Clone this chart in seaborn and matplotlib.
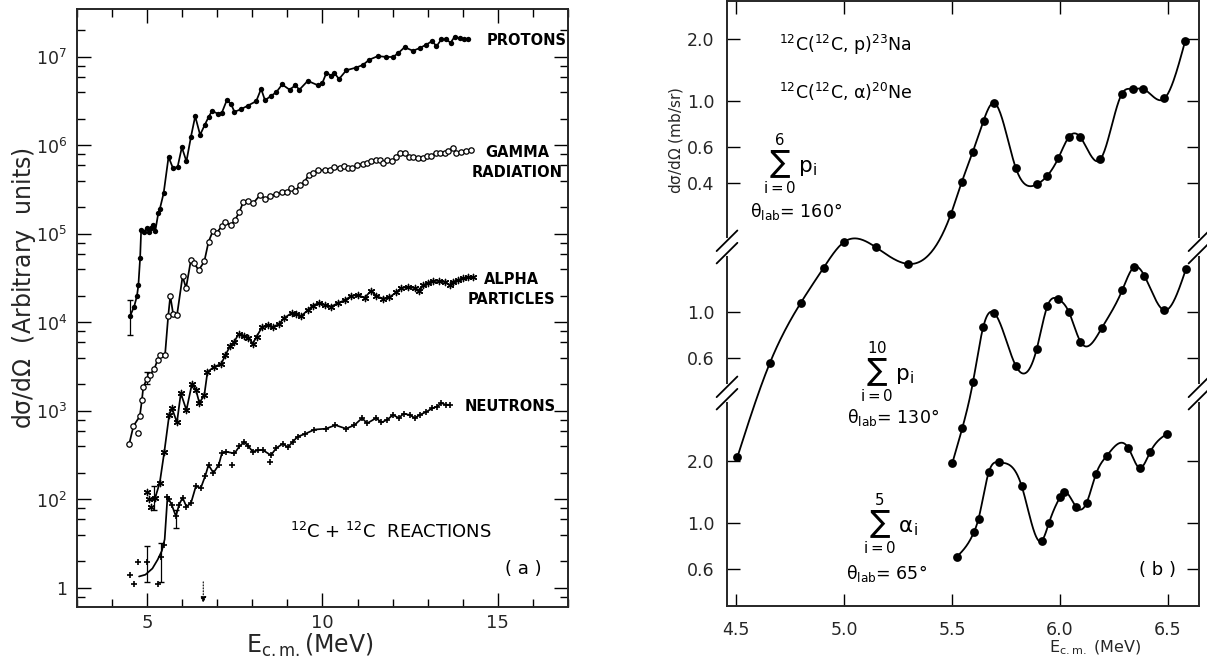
import numpy as np
import pandas as pd
import matplotlib
matplotlib.use("Agg")
import matplotlib.pyplot as plt
import matplotlib.transforms as mtransforms
import seaborn as sns

# ---------------- data: panel (a)  (log10 of dsigma/dOmega, arbitrary units) ----------------
protons_E = [4.51, 4.63, 4.71, 4.75, 4.80, 4.83, 4.91, 4.99, 5.06, 5.11, 5.17, 5.23, 5.32, 5.36, 5.47,
             5.61, 5.74, 5.87, 5.99, 6.12, 6.25, 6.37, 6.51, 6.64, 6.75, 6.85, 7.01, 7.13, 7.27, 7.39,
             7.49, 7.68, 7.87, 8.11, 8.25, 8.36, 8.53, 8.68, 8.85, 9.06, 9.23, 9.34, 9.58, 9.87, 10.0,
             10.11, 10.25, 10.34, 10.47, 10.68, 10.96, 11.15, 11.34, 11.58, 11.82, 12.01, 12.15, 12.34,
             12.58, 12.77, 12.96, 13.13, 13.25, 13.39, 13.53, 13.65, 13.77, 13.91, 14.03, 14.15]
protons_log = [4.07, 4.18, 4.30, 4.42, 4.73, 5.05, 5.02, 5.07, 5.02, 5.07, 5.10, 5.03, 5.24, 5.28, 5.46,
               5.87, 5.74, 5.76, 5.98, 5.82, 6.10, 6.33, 6.12, 6.23, 6.32, 6.39, 6.36, 6.37, 6.51, 6.47,
               6.38, 6.41, 6.45, 6.50, 6.64, 6.51, 6.56, 6.60, 6.69, 6.63, 6.68, 6.63, 6.73, 6.68, 6.71,
               6.82, 6.79, 6.82, 6.75, 6.85, 6.88, 6.91, 6.97, 7.01, 7.00, 7.00, 7.04, 7.11,
               7.07, 7.10, 7.14, 7.18, 7.12, 7.20, 7.20, 7.16, 7.23, 7.21, 7.20, 7.20]

gamma_E = [4.49, 4.61, 4.79, 4.85, 4.89, 4.99, 5.08, 5.20, 5.30, 5.37, 5.51, 5.60, 5.66, 5.74, 5.85,
           6.01, 6.11, 6.25, 6.34, 6.47, 6.63, 6.75, 6.87, 6.98, 7.13, 7.23, 7.39, 7.51, 7.63, 7.74,
           7.89, 8.03, 8.22, 8.37, 8.51, 8.68, 8.85, 8.98, 9.10, 9.23, 9.36, 9.49, 9.61, 9.72, 9.87,
           10.06, 10.20, 10.34, 10.49, 10.60, 10.72, 10.85, 10.98, 11.15, 11.27, 11.39, 11.53, 11.63,
           11.72, 11.84, 11.99, 12.10, 12.22, 12.34, 12.47, 12.58, 12.72, 12.87, 12.98, 13.10, 13.23,
           13.36, 13.49, 13.58, 13.71, 13.82, 13.96, 14.10, 14.23]
gamma_log = [2.63, 2.83, 2.94, 3.12, 3.27, 3.36, 3.41, 3.47, 3.58, 3.63, 3.63, 4.07, 4.30, 4.10, 4.08,
             4.52, 4.39, 4.71, 4.67, 4.59, 4.69, 4.91, 5.03, 5.01, 5.09, 5.13, 5.10, 5.16, 5.25, 5.36,
             5.37, 5.35, 5.44, 5.40, 5.43, 5.45, 5.47, 5.47, 5.52, 5.49, 5.55, 5.59, 5.67, 5.69, 5.72,
             5.72, 5.72, 5.76, 5.74, 5.77, 5.75, 5.74, 5.78, 5.79, 5.80, 5.83, 5.84, 5.84,
             5.80, 5.84, 5.82, 5.87, 5.92, 5.91, 5.87, 5.87, 5.86, 5.86, 5.88, 5.88, 5.92,
             5.92, 5.92, 5.94, 5.97, 5.92, 5.93, 5.94, 5.95]
gamma_extra_E = [4.74]
gamma_extra_log = [2.755]

alpha_E = [5.06, 5.23, 5.36, 5.49, 5.63, 5.71, 5.85, 5.96, 6.12, 6.28, 6.39, 6.49, 6.63, 6.72, 6.91,
           7.11, 7.23, 7.36, 7.48, 7.61, 7.77, 7.89, 8.01, 8.12, 8.28, 8.44, 8.58, 8.75, 8.91, 9.13,
           9.25, 9.39, 9.58, 9.72, 9.89, 10.06, 10.25, 10.44, 10.63, 10.82, 11.01, 11.20, 11.39, 11.53,
           11.72, 11.91, 12.10, 12.25, 12.44, 12.63, 12.75, 12.87, 13.01, 13.15, 13.32, 13.49, 13.63,
           13.72, 13.87, 14.01, 14.15, 14.28]
alpha_log = [2.00, 2.02, 2.19, 2.54, 2.96, 3.03, 2.87, 3.20, 3.01, 3.31, 3.24, 3.09, 3.18, 3.44, 3.50,
             3.53, 3.63, 3.73, 3.78, 3.87, 3.85, 3.83, 3.76, 3.84, 3.95, 3.97, 3.95, 3.98, 4.05, 4.11,
             4.10, 4.07, 4.14, 4.19, 4.22, 4.20, 4.18, 4.22, 4.25, 4.30, 4.31, 4.28, 4.36, 4.30,
             4.27, 4.285, 4.34, 4.39, 4.40, 4.39, 4.35, 4.42, 4.45, 4.47, 4.47, 4.46, 4.42,
             4.46, 4.48, 4.50, 4.51, 4.51]
alpha_extra_E = [4.99, 5.12]
alpha_extra_log = [2.08, 1.91]

neutrons_E = [4.77, 4.95, 5.15, 5.30, 5.42, 5.50, 5.58, 5.61, 5.70, 5.82, 5.91, 6.01, 6.12, 6.25, 6.39,
              6.53, 6.66, 6.75, 6.89, 7.04, 7.13, 7.25, 7.49, 7.63, 7.77, 7.89, 8.01, 8.15, 8.29, 8.53,
              8.68, 8.87, 9.01, 9.15, 9.29, 9.50, 9.77, 10.10, 10.37, 10.67, 10.91, 11.13, 11.27, 11.53,
              11.68, 11.84, 12.01, 12.18, 12.31, 12.49, 12.63, 12.77, 12.96, 13.13, 13.27, 13.39, 13.51, 13.63]
neutrons_log = [1.13, 1.15, 1.22, 1.32, 1.42, 1.55, 2.03, 2.01, 1.94, 1.81, 1.94, 2.02, 1.92, 1.96, 2.15,
                2.13, 2.27, 2.39, 2.30, 2.39, 2.52, 2.54, 2.52, 2.60, 2.65, 2.60, 2.54, 2.555, 2.56, 2.50,
                2.58, 2.63, 2.59, 2.65, 2.71, 2.74, 2.79, 2.80, 2.84, 2.80, 2.84, 2.92, 2.86, 2.92,
                2.87, 2.90, 2.955, 2.92, 2.97, 2.955, 2.92, 2.955, 2.99, 3.03, 3.05, 3.09, 3.07, 3.07]
neutrons_extra_E = [4.51, 4.63, 4.74, 5.01, 5.31, 5.39, 5.49, 7.42, 8.49]
neutrons_extra_log = [1.15, 1.04, 1.29, 1.29, 1.05, 1.35, 1.49, 2.39, 2.42]

errbar_E = [4.51, 4.99, 5.20, 5.01, 5.39, 5.82]
errbar_lo_log = [3.86, 3.31, 1.88, 1.07, 1.07, 1.68]
errbar_hi_log = [4.25, 3.44, 2.15, 1.47, 1.51, 1.88]

a_yticks = [1e1, 1e2, 1e3, 1e4, 1e5, 1e6, 1e7]
a_yticklabels = ["1", "$10^2$", "$10^3$", "$10^4$", "$10^5$", "$10^6$", "$10^7$"]
a_xticks = [5, 10, 15]
arrow_E = 6.6

# ---------------- data: panel (b)  (dsigma/dOmega in mb/sr) ----------------
p160_E = [4.506, 4.657, 4.80, 4.905, 5.0, 5.148, 5.298, 5.495, 5.545, 5.596, 5.646, 5.694, 5.796, 5.892,
          5.942, 5.993, 6.042, 6.093, 6.187, 6.287, 6.337, 6.386, 6.484, 6.58]
p160_val = [0.0187, 0.0537, 0.105, 0.155, 0.207, 0.195, 0.162, 0.283, 0.404, 0.566, 0.803, 0.98, 0.472,
            0.394, 0.435, 0.530, 0.671, 0.671, 0.521, 1.086, 1.145, 1.145, 1.03, 1.96]
p130_E = [5.501, 5.548, 5.597, 5.645, 5.694, 5.796, 5.892, 5.942, 5.993, 6.042, 6.095, 6.193, 6.289,
          6.342, 6.391, 6.484, 6.583]
p130_val = [0.184, 0.274, 0.456, 0.849, 0.993, 0.547, 0.659, 1.07, 1.153, 0.997, 0.718, 0.834, 1.28,
            1.65, 1.50, 1.02, 1.61]
a65_E = [5.523, 5.602, 5.623, 5.670, 5.719, 5.822, 5.916, 5.949, 6.0, 6.02, 6.074, 6.123, 6.167, 6.217,
         6.317, 6.370, 6.417, 6.496]
a65_val = [0.686, 0.904, 1.05, 1.76, 1.97, 1.52, 0.820, 1.0, 1.33, 1.41, 1.20, 1.25, 1.73, 2.12, 2.31,
           1.85, 2.20, 2.71]

b_section_ticks = {"top": [2.0, 1.0, 0.6, 0.4], "mid": [1.0, 0.6], "bot": [2.0, 1.0, 0.6]}
b_xticks = [4.5, 5.0, 5.5, 6.0, 6.5]
# offsets (in decades) of the three stacked log sections of the broken axis
b_offsets = {"top": 2.451, "mid": 1.427, "bot": 0.403}
b_breaks = [1.743, 1.034]

# ---------------- style ----------------
sns.set_style("ticks")
plt.rcParams["font.family"] = ["DejaVu Sans"]
plt.rcParams["mathtext.default"] = "regular"
plt.rcParams["axes.linewidth"] = 1.4

fig = plt.figure(figsize=(12.07, 6.60), dpi=100)
axa = fig.add_axes([77 / 1207, 1 - 607 / 660, (568 - 77) / 1207, (607 - 9) / 660])
axb = fig.add_axes([727 / 1207, 1 - 606 / 660, (1199 - 727) / 1207, (606 - 1) / 660])

K = "black"

# ---------------- panel (a) ----------------
def lin(v):
    return 10 ** np.asarray(v, dtype=float)

for E, L in [(protons_E, protons_log), (gamma_E, gamma_log), (alpha_E, alpha_log), (neutrons_E, neutrons_log)]:
    sns.lineplot(x=E, y=lin(L), ax=axa, color=K, lw=1.25, estimator=None, sort=False)

sns.scatterplot(x=protons_E, y=lin(protons_log), ax=axa, color=K, s=15, marker="o", linewidth=0, zorder=3)
axa.scatter(gamma_E + gamma_extra_E, lin(gamma_log + gamma_extra_log), s=15, marker="o",
            facecolor="white", edgecolor=K, linewidth=0.9, zorder=3)
axa.scatter(alpha_E + alpha_extra_E, lin(alpha_log + alpha_extra_log), s=20, marker=(6, 2, 0),
            color=K, linewidth=1.0, zorder=3)
nE = np.array(neutrons_E)
nL = np.array(neutrons_log)
mask = nE >= 5.55
axa.scatter(list(nE[mask]) + neutrons_extra_E, lin(list(nL[mask]) + neutrons_extra_log), s=22,
            marker="+", color=K, linewidth=1.2, zorder=3)

lo = lin(errbar_lo_log)
hi = lin(errbar_hi_log)
mid = np.sqrt(lo * hi)
axa.errorbar(errbar_E, mid, yerr=[mid - lo, hi - mid], fmt="none", ecolor=K, elinewidth=0.9, capsize=2)

axa.set_yscale("log")
axa.set_xlim(3, 17)
axa.set_ylim(10 ** 0.785, 10 ** 7.542)
axa.set_yticks(a_yticks)
axa.set_yticklabels(a_yticklabels)
axa.yaxis.set_minor_locator(matplotlib.ticker.LogLocator(base=10, subs=[2, 4, 6, 8]))
axa.yaxis.set_minor_formatter(matplotlib.ticker.NullFormatter())
axa.set_xticks(a_xticks)
axa.set_xticklabels([str(t) for t in a_xticks])
axa.xaxis.set_minor_locator(matplotlib.ticker.MultipleLocator(1))
axa.tick_params(which="both", direction="in", top=True, right=True, color=K, width=1.0)
axa.tick_params(which="major", length=10, labelsize=13, pad=5)
axa.tick_params(axis="y", which="major", labelsize=12.5, pad=7)
axa.tick_params(which="minor", length=6)
axa.set_xlabel("")
axa.set_ylabel("")

axa.annotate("", xy=(arrow_E, 10 ** 0.80), xytext=(arrow_E, 10 ** 1.10),
             arrowprops=dict(arrowstyle="-|>", color=K, lw=0.8, ls=":", mutation_scale=9))

lab_kw = dict(fontsize=10.5, fontweight="bold", color=K)
axa.text(14.69, 10 ** 7.19, "PROTONS", ha="left", va="center", **lab_kw)
axa.text(15.55, 10 ** 5.81, "GAMMA\nRADIATION", ha="center", va="center", linespacing=1.4, **lab_kw)
axa.text(15.4, 10 ** 4.37, "ALPHA\nPARTICLES", ha="center", va="center", linespacing=1.4, **lab_kw)
axa.text(14.06, 10 ** 3.045, "NEUTRONS", ha="left", va="center", **lab_kw)
axa.text(9.06, 10 ** 1.63, "$^{12}$C + $^{12}$C  REACTIONS", ha="left", va="center", fontsize=13, color=K)
axa.text(15.74, 10 ** 1.215, "( a )", ha="center", va="center", fontsize=13, color=K)

fig.text(310 / 1207, 1 - 645 / 660, r"E$_{c.m.}$(MeV)", ha="center", va="center", fontsize=17)
fig.text(24 / 1207, 1 - 288 / 660, r"d$\sigma$/d$\Omega$  (Arbitrary  units)", ha="center",
         va="center", rotation=90, fontsize=17)

# ---------------- panel (b) ----------------
def natural_spline(x, y, xs):
    x = np.asarray(x, float)
    y = np.asarray(y, float)
    n = len(x)
    h = np.diff(x)
    A = np.zeros((n, n))
    r = np.zeros(n)
    A[0, 0] = A[-1, -1] = 1.0
    for i in range(1, n - 1):
        A[i, i - 1] = h[i - 1]
        A[i, i] = 2 * (h[i - 1] + h[i])
        A[i, i + 1] = h[i]
        r[i] = 3 * ((y[i + 1] - y[i]) / h[i] - (y[i] - y[i - 1]) / h[i - 1])
    c = np.linalg.solve(A, r)
    b = (y[1:] - y[:-1]) / h - h * (2 * c[:-1] + c[1:]) / 3
    d = (c[1:] - c[:-1]) / (3 * h)
    idx = np.clip(np.searchsorted(x, xs) - 1, 0, n - 2)
    dx = xs - x[idx]
    return y[idx] + b[idx] * dx + c[idx] * dx ** 2 + d[idx] * dx ** 3

for E, V, sec in [(p160_E, p160_val, "top"), (p130_E, p130_val, "mid"), (a65_E, a65_val, "bot")]:
    u = np.log10(V) + b_offsets[sec]
    xs = np.linspace(E[0], E[-1], 500)
    sns.lineplot(x=xs, y=natural_spline(E, u, xs), ax=axb, color=K, lw=1.3, estimator=None, sort=False)
    sns.scatterplot(x=E, y=u, ax=axb, color=K, s=40, marker="o", linewidth=0, zorder=3)

yt, yl = [], []
for sec, vals in b_section_ticks.items():
    for v in vals:
        yt.append(np.log10(v) + b_offsets[sec])
        yl.append(f"{v:.1f}")
axb.set_yticks(yt)
axb.set_yticklabels(yl)
axb.set_xticks(b_xticks)
axb.set_xticklabels([f"{t:.1f}" for t in b_xticks])
axb.set_xlim(4.458, 6.644)
axb.set_ylim(0, 2.937)
axb.tick_params(which="both", direction="in", top=True, right=True, length=9, width=1.0,
                labelsize=12.5, color=K)
axb.tick_params(axis="y", pad=9)
axb.tick_params(axis="x", pad=11)
axb.set_xlabel("")
axb.set_ylabel("")

# axis-break marks on both spines
trb = mtransforms.blended_transform_factory(axb.transAxes, axb.transData)
for yb in b_breaks:
    for xs0 in (0.0, 1.0):
        axb.plot([xs0, xs0], [yb - 0.045, yb + 0.045], color="white", lw=4, transform=trb,
                 clip_on=False, zorder=5, solid_capstyle="butt")
        for dd in (-0.03, 0.03):
            axb.plot([xs0 - 0.022, xs0 + 0.022], [yb + dd - 0.05, yb + dd + 0.05], color=K, lw=1.3,
                     transform=trb, clip_on=False, zorder=6)

tk = dict(color=K, fontsize=12.5)
axb.text(4.70, 2.723, "$^{12}$C($^{12}$C, p)$^{23}$Na", ha="left", va="center", **tk)
axb.text(4.70, 2.495, r"$^{12}$C($^{12}$C, $\alpha$)$^{20}$Ne", ha="left", va="center", **tk)
axb.text(4.75, 2.14, r"$\sum_{i=0}^{6}\, p_i$", ha="center", va="center", fontsize=15.5, color=K)
axb.text(4.565, 1.913, r"$\theta_{lab}$= 160°", ha="left", va="center", **tk)
axb.text(5.199, 1.131, r"$\sum_{i=0}^{10}\, p_i$", ha="center", va="center", fontsize=15.5, color=K)
axb.text(5.014, 0.913, r"$\theta_{lab}$= 130°", ha="left", va="center", **tk)
axb.text(5.213, 0.393, r"$\sum_{i=0}^{5}\, \alpha_i$", ha="center", va="center", fontsize=15.5, color=K)
axb.text(5.009, 0.160, r"$\theta_{lab}$= 65°", ha="left", va="center", **tk)
axb.text(6.454, 0.175, "( b )", ha="center", va="center", fontsize=13, color=K)

fig.text(676 / 1207, 1 - 140 / 660, r"d$\sigma$/d$\Omega$ (mb/sr)", ha="center", va="center",
         rotation=90, fontsize=11)
fig.text(1095 / 1207, 1 - 648 / 660, r"E$_{c.m.}$ (MeV)", ha="center", va="center", fontsize=11.5)

fig.savefig("out.png", dpi=100, facecolor="white")
